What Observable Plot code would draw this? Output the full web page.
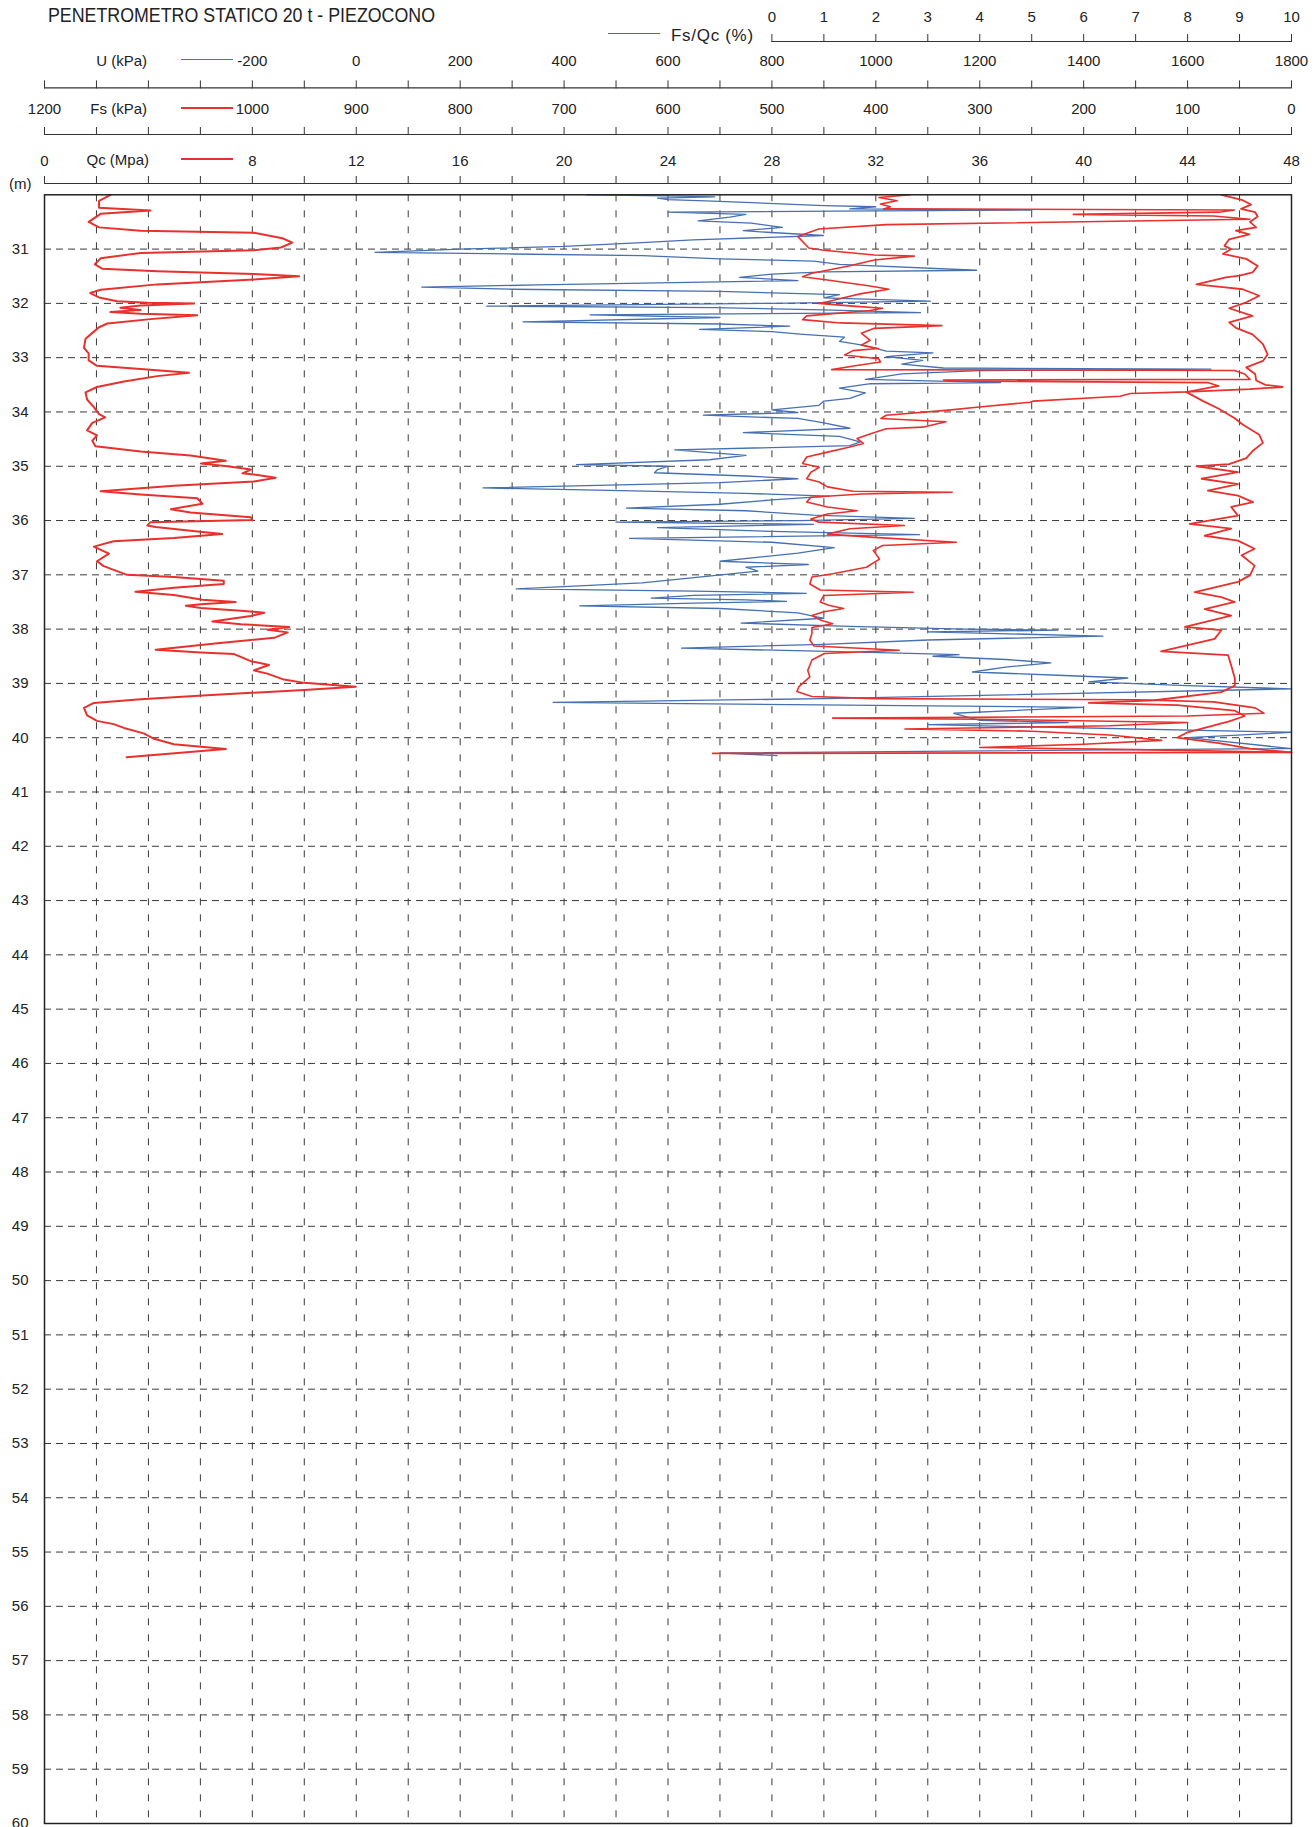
<!DOCTYPE html>
<html><head><meta charset="utf-8">
<script src="https://cdn.jsdelivr.net/npm/d3@7"></script>
<script src="https://cdn.jsdelivr.net/npm/@observablehq/plot@0.6"></script>
<style>
body{margin:0;background:#fff;font-family:"Liberation Sans",Arial,sans-serif;}
#wrap{position:relative;width:1314px;height:1827px;overflow:hidden;background:#fff}
.abs{position:absolute;white-space:nowrap;color:#222;font-size:15px;line-height:15px}
.lg{position:absolute;height:0}
</style></head><body><div id="wrap"></div>
<script>
// ---------- DATA (depth in m, value in native units) ----------
const qcTickLabels = [0, 8, 12, 16, 20, 24, 28, 32, 36, 40, 44, 48];          // MPa
const fsTickLabels = [1200, 1000, 900, 800, 700, 600, 500, 400, 300, 200, 100, 0]; // kPa
const uTickLabels  = [-200, 0, 200, 400, 600, 800, 1000, 1200, 1400, 1600, 1800]; // kPa
const ratioTickLabels = [0, 1, 2, 3, 4, 5, 6, 7, 8, 9, 10];                    // %
const depthTicks = [31,32,33,34,35,36,37,38,39,40,41,42,43,44,45,46,47,48,49,50,51,52,53,54,55,56,57,58,59,60];

// Qc (MPa)
const qcProfile = [[30.00,2.54],[30.11,2.10],[30.24,2.10],[30.29,4.08],[30.35,2.16],[30.50,1.70],[30.60,2.10],[30.66,3.70],[30.70,8.06],[30.80,9.16],[30.88,9.54],[30.97,9.10],[31.02,8.06],[31.07,3.70],[31.17,2.16],[31.28,1.94],[31.36,2.22],[31.41,4.34],[31.46,8.06],[31.50,9.80],[31.56,8.06],[31.65,4.34],[31.75,2.16],[31.81,1.76],[31.89,2.10],[31.96,2.80],[31.99,3.96],[32.00,5.76],[32.04,3.70],[32.08,2.92],[32.12,3.70],[32.16,2.54],[32.19,3.70],[32.22,5.88],[32.29,4.08],[32.37,2.42],[32.44,2.10],[32.52,1.90],[32.65,1.58],[32.82,1.52],[32.92,1.70],[33.05,1.70],[33.15,2.02],[33.21,3.70],[33.28,5.56],[33.34,4.34],[33.44,3.06],[33.54,2.02],[33.64,1.58],[33.77,1.64],[33.91,1.90],[34.04,2.10],[34.10,2.34],[34.20,1.84],[34.34,1.64],[34.43,2.02],[34.53,1.84],[34.63,1.96],[34.73,3.70],[34.80,5.62],[34.90,6.98],[34.95,6.02],[35.00,7.04],[35.06,7.94],[35.13,7.62],[35.16,8.20],[35.21,8.90],[35.28,8.06],[35.36,4.98],[35.46,2.16],[35.52,3.70],[35.59,5.88],[35.69,6.08],[35.79,4.86],[35.85,5.62],[35.94,7.94],[35.99,8.00],[36.03,4.08],[36.09,3.96],[36.12,4.28],[36.19,5.62],[36.25,6.84],[36.32,4.98],[36.38,2.66],[36.48,1.90],[36.61,2.48],[36.75,2.02],[36.84,2.28],[37.00,3.18],[37.04,4.98],[37.11,6.90],[37.17,6.90],[37.24,4.98],[37.31,3.50],[37.37,4.98],[37.46,6.08],[37.50,7.36],[37.54,6.02],[37.57,5.44],[37.61,6.02],[37.66,7.56],[37.70,8.46],[37.76,7.94],[37.86,6.46],[37.91,7.56],[37.96,9.42],[38.01,8.58],[38.06,9.36],[38.16,8.84],[38.26,6.66],[38.38,4.28],[38.43,6.02],[38.46,7.30],[38.59,7.94],[38.66,8.64],[38.76,8.06],[38.82,8.58],[38.93,9.22],[38.99,10.00],[39.06,11.98],[39.12,10.00],[39.22,6.26],[39.29,3.70],[39.36,1.90],[39.45,1.52],[39.59,1.64],[39.69,2.02],[39.75,2.66],[39.82,3.06],[39.92,3.82],[40.02,4.22],[40.12,4.98],[40.21,6.98],[40.36,3.16]];

// Fs (kPa)
const fsProfile = [[30.00,67.5],[30.10,47],[30.18,39],[30.26,48.5],[30.32,35],[30.40,32.5],[30.50,40],[30.60,34],[30.66,53.5],[30.73,40.5],[30.82,60],[30.94,64.5],[31.00,58],[31.09,66],[31.18,43.5],[31.31,32.5],[31.43,37.5],[31.49,50],[31.52,63],[31.65,91.5],[31.70,66],[31.74,47],[31.86,31],[31.98,43.5],[32.09,60],[32.23,37.5],[32.35,60],[32.45,53.5],[32.57,37.5],[32.75,27.5],[32.94,23],[33.06,27.5],[33.18,43.5],[33.30,35],[33.42,34],[33.50,25],[33.54,8.5],[33.58,40],[33.63,101.5],[33.80,85],[33.94,70],[34.11,55],[34.23,47],[34.42,31],[34.57,27.5],[34.72,37.5],[34.85,43.5],[34.96,60],[35.00,91.5],[35.11,51.5],[35.23,86.5],[35.33,51.5],[35.45,80.5],[35.54,51.5],[35.66,37],[35.75,58],[35.91,51.5],[36.06,98],[36.15,58],[36.28,83.5],[36.37,51.5],[36.52,35.5],[36.64,48],[36.83,35.5],[37.01,40],[37.13,51.5],[37.32,93],[37.41,67.5],[37.50,54.5],[37.63,83.5],[37.75,58],[37.96,102.5],[38.02,67.5],[38.18,74],[38.41,125.5],[38.48,61],[38.67,58],[38.91,54.5],[39.04,54.5],[39.16,67.5],[39.31,131.5],[39.36,195],[39.40,110],[39.50,55],[39.60,45],[39.70,60],[39.80,80],[39.90,100],[40.00,110],[40.10,70],[40.20,40],[40.27,0],[40.29,557]];

// U (kPa)
const uProfile = [[30.00,443],[30.02,600],[30.04,690],[30.06,580],[30.09,600],[30.12,700],[30.20,900],[30.22,1000],[30.26,950],[30.28,1300],[30.30,920],[30.32,600],[30.36,750],[30.41,719],[30.48,658],[30.52,760],[30.60,820],[30.66,745],[30.69,790],[30.75,899],[30.83,648],[30.88,550],[30.95,400],[31.00,200],[31.06,36],[31.09,300],[31.12,550],[31.18,700],[31.22,880],[31.28,930],[31.39,1194],[31.42,900],[31.46,800],[31.52,738],[31.58,850],[31.66,350],[31.70,126],[31.74,300],[31.78,700],[31.84,930],[31.90,900],[31.96,1105],[32.00,800],[32.05,251],[32.08,690],[32.12,900],[32.17,1086],[32.21,450],[32.26,700],[32.34,321],[32.38,700],[32.42,834],[32.48,661],[32.52,800],[32.57,860],[32.62,940],[32.70,930],[32.78,980],[32.88,1020],[32.91,1110],[32.98,1020],[33.05,1090],[33.12,1050],[33.19,1130],[33.21,1645],[33.24,1200],[33.30,1050],[33.40,980],[33.46,1240],[33.48,990],[33.56,930],[33.65,980],[33.75,950],[33.80,900],[33.88,890],[33.96,800],[34.01,850],[34.06,668],[34.12,850],[34.20,900],[34.30,950],[34.38,745],[34.45,930],[34.55,970],[34.62,950],[34.70,613],[34.80,750],[34.88,680],[34.97,424],[35.00,600],[35.06,580],[35.12,574],[35.18,750],[35.23,850],[35.30,700],[35.40,244],[35.45,510],[35.50,750],[35.55,910],[35.62,800],[35.70,700],[35.77,520],[35.82,750],[35.90,880],[35.96,1074],[36.00,850],[36.03,500],[36.07,880],[36.13,580],[36.20,800],[36.26,1084],[36.30,750],[36.33,526],[36.40,800],[36.50,920],[36.60,850],[36.75,700],[36.81,870],[36.86,750],[36.93,773],[37.05,650],[37.15,550],[37.26,308],[37.30,650],[37.34,866],[37.38,650],[37.43,568],[37.46,750],[37.49,828],[37.52,650],[37.57,430],[37.62,700],[37.70,850],[37.80,900],[37.89,741],[37.95,950],[38.00,1170],[38.02,1350],[38.05,1100],[38.13,1437],[38.20,1100],[38.28,900],[38.35,626],[38.42,950],[38.47,1160],[38.50,1110],[38.56,1250],[38.62,1337],[38.70,1250],[38.79,1186],[38.85,1350],[38.90,1485],[38.97,1410],[39.04,1600],[39.10,1800],[39.28,900],[39.35,379],[39.44,1400],[39.55,1150],[39.68,1200],[39.72,1370],[39.76,1100],[39.90,1800],[40.00,1600],[40.20,1800],[40.28,700],[40.33,810]];

// Fs/Qc (%)
const ratioProfile = [[30.00,2.66],[30.05,2.06],[30.11,2.41],[30.17,2.09],[30.22,2.28],[30.26,2.15],[30.28,8.9],[30.32,8.6],[30.36,5.8],[30.39,8.5],[30.45,9.2],[30.55,2.2],[30.63,0.9],[30.77,0.50],[30.98,0.71],[31.02,1.00],[31.11,1.97],[31.13,2.74],[31.20,1.97],[31.31,1.48],[31.45,0.75],[31.51,0.59],[31.57,1.07],[31.68,1.89],[31.74,2.25],[31.82,1.72],[31.89,1.40],[31.97,1.07],[32.00,0.90],[32.05,1.56],[32.09,2.13],[32.13,1.89],[32.23,0.67],[32.30,0.59],[32.36,1.32],[32.41,3.27],[32.46,1.97],[32.55,1.72],[32.68,1.89],[32.77,1.72],[32.83,2.05],[32.87,1.56],[32.95,1.40],[33.02,2.05],[33.08,2.09],[33.15,1.60],[33.22,1.15],[33.235,8.9],[33.30,9.1],[33.40,9.2],[33.41,3.3],[33.43,3.5],[33.46,8.4],[33.52,8.6],[33.63,8.0],[33.66,6.9],[33.71,6.7],[33.80,5.03],[33.82,4.97],[33.91,3.99],[33.97,3.35],[34.06,2.20],[34.12,2.10],[34.18,3.35],[34.28,2.90],[34.31,2.20],[34.40,1.90],[34.49,1.64],[34.58,1.76],[34.65,1.48],[34.74,1.07],[34.83,0.67],[34.95,0.59],[35.02,0.91],[35.11,0.75],[35.23,0.67],[35.29,0.91],[35.38,1.07],[35.46,1.56],[35.48,3.47],[35.51,1.72],[35.57,0.75],[35.66,0.67],[35.75,1.07],[35.82,1.64],[35.88,1.07],[35.97,0.75],[36.03,0.90],[36.09,2.55],[36.15,1.50],[36.25,1.07],[36.31,1.97],[36.40,3.55],[36.46,2.13],[36.55,1.95],[36.68,2.05],[36.71,2.07],[36.86,1.82],[36.98,1.17],[37.04,0.77],[37.17,0.73],[37.28,0.93],[37.32,2.72],[37.38,1.00],[37.50,0.93],[37.56,1.09],[37.62,1.38],[37.68,1.00],[37.75,0.77],[37.83,0.93],[37.90,1.17],[37.97,0.77],[38.08,0.77],[38.20,0.73],[38.31,0.81],[38.39,2.45],[38.45,1.01],[38.57,0.77],[38.76,0.69],[38.88,0.73],[39.06,0.52],[39.15,0.48],[39.24,0.77],[39.28,2.0],[39.30,7.0],[39.34,8.5],[39.45,9.3],[39.55,9.47],[39.60,8.0],[39.63,3.0],[39.64,1.17],[39.66,4.0],[39.72,8.0],[39.78,6.5],[39.84,2.56],[39.88,5.0],[39.95,6.5],[40.05,7.5],[40.12,6.0],[40.18,4.0],[40.22,7.0],[40.27,10.0]];

// ---------- mapping of every quantity onto the shared Qc scale (0–48) ----------
const fromQc = v => v;
const fromFs = v => (1200 - v) / 25;
const fromU = v => (v + 600) / 50;
const fromRatio = v => 28 + 2 * v;
const rows = (profile, f) => profile.map(([depth, v]) => ({depth, x: f(v)}));

const RED = "#e8302d", BLUE = "#4670b2", GRID = "#3a3a3a";
const columns = d3.range(0, 49, 2);   // every grid column, Qc units

function headerAxis(dy, pad, labels, toX, range) {
  const xs = labels.map(toX);
  return [
    Plot.ruleY([30], {x1: range[0], x2: range[1], dy, stroke: "#333", strokeWidth: 1.2}),
    Plot.axisX({
      ticks: columns.filter(c => c >= range[0] && c <= range[1]),
      anchor: "top", dy, tickSize: 8, tickPadding: pad, label: null, fontSize: 15,
      stroke: "#333",
      tickFormat: c => { const i = xs.findIndex(x => Math.abs(x - c) < 1e-6); return i >= 0 ? String(labels[i]) : ""; }
    })
  ];
}

const chart = Plot.plot({
  width: 1314, height: 1827,
  marginTop: 194.3, marginBottom: 4, marginLeft: 44, marginRight: 23,
  style: {fontFamily: "'Liberation Sans', Arial, sans-serif", fontSize: "15px", color: "#222", background: "white", overflow: "visible"},
  x: {domain: [0, 48]},
  y: {domain: [30, 60], reverse: true},
  marks: [
    Plot.gridX({ticks: columns.slice(1, -1), stroke: GRID, strokeOpacity: 1, strokeWidth: 1, strokeDasharray: "7,9"}),
    Plot.gridY({ticks: depthTicks.slice(0, -1), stroke: GRID, strokeOpacity: 1, strokeWidth: 1, strokeDasharray: "7,5"}),
    Plot.line(rows(uProfile, fromU), {x: "x", y: "depth", stroke: BLUE, strokeWidth: 1.3}),
    Plot.line(rows(ratioProfile, fromRatio), {x: "x", y: "depth", stroke: RED, strokeWidth: 1.6}),
    Plot.line(rows(fsProfile, fromFs), {x: "x", y: "depth", stroke: RED, strokeWidth: 1.8}),
    Plot.line(rows(qcProfile, fromQc), {x: "x", y: "depth", stroke: RED, strokeWidth: 2}),
    Plot.frame({stroke: "#222", strokeWidth: 1.5}),
    Plot.axisY({ticks: depthTicks, anchor: "left", tickSize: 0, tickPadding: 16, label: null, fontSize: 15}),
    ...headerAxis(-11.3, 10, qcTickLabels, fromQc, [0, 48]),
    ...headerAxis(-60.3, 13, fsTickLabels, fromFs, [0, 48]),
    ...headerAxis(-106.9, 13.5, uTickLabels, fromU, [0, 48]),
    ...headerAxis(-153.3, 12, ratioTickLabels, fromRatio, [28, 48])
  ]
});

const wrap = document.getElementById("wrap");
wrap.appendChild(chart);

function addText(txt, style) {
  const d = document.createElement("div");
  d.className = "abs"; d.textContent = txt;
  Object.assign(d.style, style);
  wrap.appendChild(d);
}
function addLine(x1, x2, y, color, w) {
  const d = document.createElement("div");
  d.className = "lg";
  Object.assign(d.style, {left: x1 + "px", width: (x2 - x1) + "px", top: (y - w / 2) + "px", borderTop: w + "px solid " + color});
  wrap.appendChild(d);
}
addText("PENETROMETRO STATICO 20 t - PIEZOCONO", {left: "48px", top: "5px", fontSize: "20px", lineHeight: "20px", transform: "scaleX(0.89)", transformOrigin: "0 0"});
addText("Fs/Qc (%)", {left: "671px", top: "27px", fontSize: "17px", lineHeight: "17px", letterSpacing: "0.7px"});
addLine(608, 660, 34, RED, 1.5);
addText("U (kPa)", {left: "0px", width: "147px", textAlign: "right", top: "53px"});
addLine(181, 233, 60, BLUE, 1.2);
addText("Fs (kPa)", {left: "0px", width: "147px", textAlign: "right", top: "101px"});
addLine(181, 233, 108, RED, 2.5);
addText("Qc (Mpa)", {left: "0px", width: "149px", textAlign: "right", top: "152px"});
addLine(181, 233, 159, RED, 2.5);
addText("(m)", {left: "9px", top: "176px"});
</script></body></html>
